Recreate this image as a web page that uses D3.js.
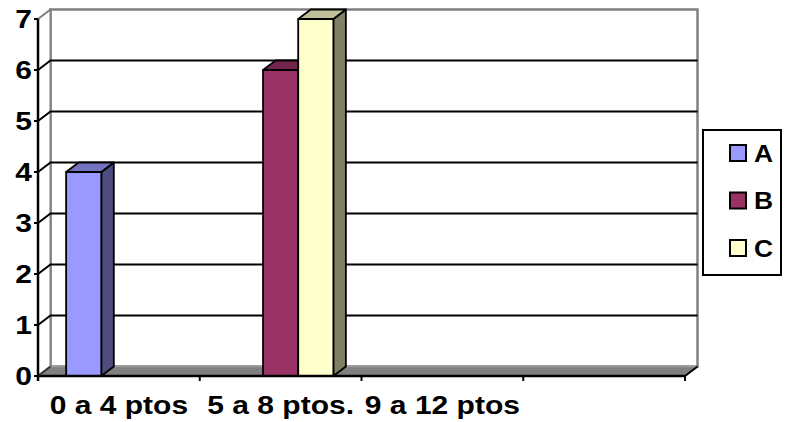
<!DOCTYPE html>
<html>
<head>
<meta charset="utf-8">
<script src="https://cdn.jsdelivr.net/npm/d3@7"></script>
<style>
  html, body { margin: 0; padding: 0; background: #fff; }
  svg { display: block; }
  text { font-family: "Liberation Sans", Arial, sans-serif; font-weight: bold; fill: #000; }
</style>
</head>
<body>
<svg id="chart" width="785" height="422"></svg>
<script>
// Categories (the fourth slot has no label)
const categories = ["0 a 4 ptos", "5 a 8 ptos.", "9 a 12 ptos", ""];
const seriesNames = ["A", "B", "C"];
const valuesA = [4, 0, 0, 0];
const valuesB = [0, 6, 0, 0];
const valuesC = [0, 7, 0, 0];
const yTicks = [0, 1, 2, 3, 4, 5, 6, 7];

// Face colours for each series: front, top, side
const colors = {
  A: { front: "#9999FF", top: "#7373BF", side: "#4D4D80" },
  B: { front: "#993366", top: "#73264D", side: "#4D1A33" },
  C: { front: "#FFFFCC", top: "#BFBF99", side: "#808066" }
};

const svg = d3.select("#chart");

// Front plane geometry and depth offset for the 3D effect
const x0 = 38, x1 = 685, yBottom = 376, yTop = 19;
const dx = 12.5, dy = -9.5;
const textScaleX = 1.2;

const x = d3.scaleBand().domain(categories).range([x0, x1]).padding(0);
const xs = d3.scaleBand().domain(seriesNames).range([0, x.bandwidth()]).paddingInner(0).paddingOuter(0.8);
const y = d3.scaleLinear().domain([0, 7]).range([yBottom, yTop]);

const pts = arr => arr.map(p => p.join(",")).join(" ");

// Back wall
svg.append("rect")
  .attr("x", x0 + dx).attr("y", yTop + dy)
  .attr("width", x1 - x0).attr("height", yBottom - yTop)
  .attr("fill", "#fff").attr("stroke", "#808080").attr("stroke-width", 2.5);

// Left side wall
svg.append("polygon")
  .attr("points", pts([[x0, yBottom], [x0, yTop], [x0 + dx, yTop + dy], [x0 + dx, yBottom + dy]]))
  .attr("fill", "#fff").attr("stroke", "#808080").attr("stroke-width", 2);

// Floor
svg.append("polygon")
  .attr("points", pts([[x0, yBottom], [x1, yBottom], [x1 + dx, yBottom + dy], [x0 + dx, yBottom + dy]]))
  .attr("fill", "#808080").attr("stroke", "#999").attr("stroke-width", 1.5);

// Gridlines: along the side wall and across the back wall
const gridVals = yTicks.filter(v => v > 0 && v < 7);
const grid = svg.append("g").attr("stroke", "#000").attr("stroke-width", 2).attr("fill", "none");
gridVals.forEach(v => {
  grid.append("polyline")
    .attr("points", pts([[x0, y(v)], [x0 + dx, y(v) + dy], [x1 + dx, y(v) + dy]]));
});

// 3D columns
const series = [
  { name: "A", values: valuesA },
  { name: "B", values: valuesB },
  { name: "C", values: valuesC }
];
const bars = [];
categories.forEach((c, ci) => {
  series.forEach(s => {
    const v = s.values[ci];
    if (v > 0) bars.push({ cat: c, name: s.name, value: v });
  });
});
bars.sort((a, b) => (x(a.cat) + xs(a.name)) - (x(b.cat) + xs(b.name)));

const barG = svg.append("g").attr("stroke", "#000").attr("stroke-width", 1.8).attr("stroke-linejoin", "round");
bars.forEach(b => {
  const bx = x(b.cat) + xs(b.name);
  const bw = xs.bandwidth();
  const by = y(b.value);
  const col = colors[b.name];
  // side face
  barG.append("polygon")
    .attr("points", pts([[bx + bw, by], [bx + bw + dx, by + dy], [bx + bw + dx, yBottom + dy], [bx + bw, yBottom]]))
    .attr("fill", col.side);
  // top face
  barG.append("polygon")
    .attr("points", pts([[bx, by], [bx + dx, by + dy], [bx + bw + dx, by + dy], [bx + bw, by]]))
    .attr("fill", col.top);
  // front face
  barG.append("rect")
    .attr("x", bx).attr("y", by).attr("width", bw).attr("height", yBottom - by)
    .attr("fill", col.front);
});

// Front edge of the floor (category axis) and the floor's end edges
svg.append("line")
  .attr("x1", x0).attr("x2", x1).attr("y1", yBottom).attr("y2", yBottom)
  .attr("stroke", "#000").attr("stroke-width", 2.5);
svg.append("line")
  .attr("x1", x1).attr("y1", yBottom).attr("x2", x1 + dx).attr("y2", yBottom + dy)
  .attr("stroke", "#000").attr("stroke-width", 2);
svg.append("line")
  .attr("x1", x0).attr("y1", yBottom).attr("x2", x0 + dx).attr("y2", yBottom + dy)
  .attr("stroke", "#333").attr("stroke-width", 2);

// Category ticks
const catEdges = categories.map(c => x(c)).concat([x1]);
svg.append("g").selectAll("line").data(catEdges).join("line")
  .attr("x1", d => d).attr("x2", d => d)
  .attr("y1", yBottom).attr("y2", yBottom + 5)
  .attr("stroke", "#000").attr("stroke-width", 2);

// Value axis
svg.append("line")
  .attr("x1", x0).attr("x2", x0).attr("y1", yTop).attr("y2", yBottom + 5)
  .attr("stroke", "#000").attr("stroke-width", 2.5);
svg.append("g").selectAll("line").data(yTicks).join("line")
  .attr("x1", x0 - 4).attr("x2", x0)
  .attr("y1", d => y(d)).attr("y2", d => y(d))
  .attr("stroke", "#000").attr("stroke-width", 2);

svg.append("g").selectAll("text").data(yTicks).join("text")
  .attr("transform", d => `translate(${x0 - 6},${y(d)}) scale(${textScaleX},1)`)
  .attr("text-anchor", "end").attr("dy", "0.36em")
  .attr("font-size", 25)
  .text(d => d);

// Category labels
svg.append("g").selectAll("text").data(categories).join("text")
  .attr("transform", d => `translate(${x(d) + x.bandwidth() / 2},414) scale(${textScaleX},1)`)
  .attr("text-anchor", "middle")
  .attr("font-size", 25)
  .text(d => d);

// Legend
const legend = svg.append("g");
legend.append("rect")
  .attr("x", 703).attr("y", 130).attr("width", 78).attr("height", 145)
  .attr("fill", "#fff").attr("stroke", "#000").attr("stroke-width", 2);
const legY = d3.scalePoint().domain(seriesNames).range([153, 248]);
seriesNames.forEach(n => {
  legend.append("rect")
    .attr("x", 730).attr("y", legY(n) - 8).attr("width", 16).attr("height", 16)
    .attr("fill", colors[n].front).attr("stroke", "#000").attr("stroke-width", 2);
  legend.append("text")
    .attr("transform", `translate(754,${legY(n)}) scale(1.1,1)`)
    .attr("dy", "0.36em")
    .attr("font-size", 24)
    .text(n);
});
</script>
</body>
</html>
